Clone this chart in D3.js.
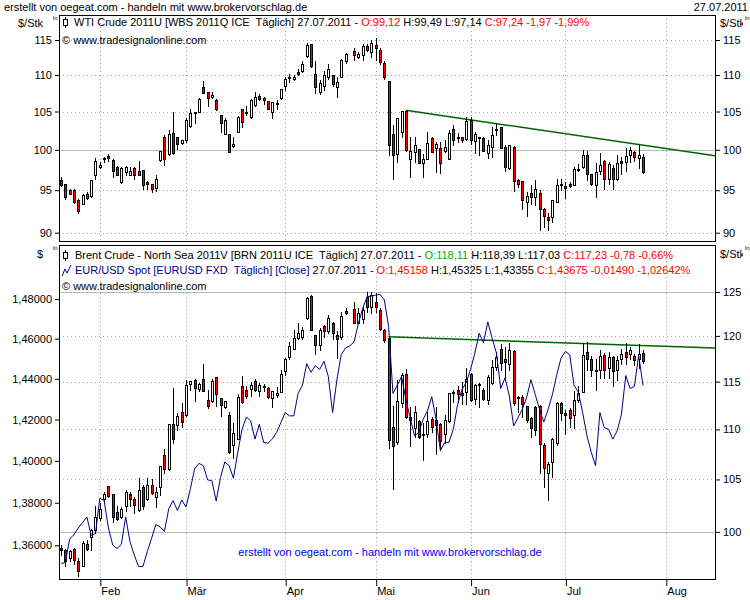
<!DOCTYPE html>
<html>
<head>
<meta charset="utf-8">
<script src="https://cdn.jsdelivr.net/npm/d3@7"></script>
<style>
  body { margin: 0; background: #fff; }
  svg { display: block; font-family: "Liberation Sans", Arial, sans-serif; font-size: 11px; }
  text { white-space: pre; }
</style>
</head>
<body>
<div id="chart"></div>
<script>
// Trading day index 0 = 19.01.2011 ... 135 = 27.07.2011 (67 = Karfreitag, no futures data)
const monthLabels = ["Feb", "Mär", "Apr", "Mai", "Jun", "Jul", "Aug"];
const monthDayIndex = [9, 29, 52, 73, 95, 117, 140.3];

const wtiTicks = [90, 95, 100, 105, 110, 115];
const wtiSolid = [100];
const brentTicks = [100, 105, 110, 115, 120, 125];
const brentSolid = [100, 125];
const eurTicks = [1.36, 1.38, 1.40, 1.42, 1.44, 1.46, 1.48];

// WTI Crude 2011U (daily OHLC)
const wtiOpen = [
  96.2,95.7,95.0,95.0,93.8,93.4,94.6,94.3,96.9,97.8,
  98.85,99.2,98.7,97.9,96.0,97.2,96.9,97.7,97.4,97.5,
  96.0,95.7,95.3,98.7,101.7,99.5,102.2,101.6,100.9,101.3,
  103.1,104.9,105.0,108.3,107.6,106.9,106.6,104.6,102.0,102.0,
  100.5,102.3,105.3,105.0,104.3,105.9,107.05,106.8,106.4,104.95,
  106.0,106.8,108.4,109.7,109.4,110.4,110.6,112.7,114.4,110.1,
  107.7,108.4,109.7,110.0,108.3,109.75,111.9,null,113.4,112.6,
  112.8,114.1,113.2,114.3,113.5,111.7,109.1,102.0,99.5,102.3,
  105.1,98.9,99.7,100.05,98.3,98.9,101.5,100.2,100.2,99.9,
  98.9,102.75,101.7,101.6,101.45,103.9,101.1,101.6,101.55,99.6,
  100.4,102.5,102.9,100.4,97.75,100.4,96.2,96.1,93.6,94.7,
  94.15,94.7,92.7,91.8,91.8,93.6,95.8,95.45,95.7,95.6,
  97.65,97.8,99.4,97.0,95.6,97.4,98.6,96.4,97.7,96.4,
  98.6,98.5,99.4,99.7,99.0,99.12];
const wtiHigh = [
  96.6,95.7,95.2,95.1,93.9,94.6,94.8,96.3,99.0,98.5,
  99.1,99.5,98.9,98.0,97.8,98.0,97.8,97.8,98.6,97.5,
  96.1,95.8,96.8,99.8,101.9,102.6,104.9,101.7,101.3,104.1,
  105.4,105.0,106.8,109.2,107.7,107.7,106.7,104.6,104.1,102.0,
  101.6,104.4,105.4,105.8,106.7,107.7,107.4,107.0,106.4,106.3,
  106.5,108.1,109.75,110.2,110.0,110.8,111.9,114.5,114.4,111.9,
  109.3,110.5,111.6,110.0,109.75,112.2,113.1,null,113.9,113.2,
  114.4,114.4,115.0,115.3,113.8,111.9,109.1,103.2,104.1,105.1,
  105.2,101.6,101.6,100.1,99.5,102.3,101.7,101.0,101.0,101.2,
  102.5,103.2,102.2,101.7,104.3,104.3,102.3,101.7,101.6,101.2,
  103.0,103.3,103.0,100.6,100.6,100.5,96.4,96.1,94.8,95.6,
  96.3,95.05,92.9,92.3,93.8,96.4,96.4,96.0,96.0,97.9,
  98.2,99.95,99.85,97.0,98.3,99.6,98.7,98.5,98.1,99.3,
  99.1,100.2,100.4,99.85,100.6,99.49];
const wtiLow = [
  95.5,94.0,94.5,93.5,92.3,93.3,94.0,94.2,96.4,97.7,
  98.5,98.6,96.6,96.8,95.9,96.9,96.8,96.4,96.8,95.2,
  95.1,94.8,94.9,98.6,98.05,99.4,99.5,100.1,100.7,101.0,
  103.0,103.5,104.9,107.5,105.8,106.8,105.2,102.3,102.0,99.7,
  100.4,102.3,103.0,104.5,104.1,105.8,106.5,106.0,105.3,104.2,
  105.3,106.65,107.9,109.0,109.3,109.95,110.4,112.6,111.1,107.5,
  107.4,107.9,109.4,108.4,106.9,109.75,111.7,null,112.1,112.4,
  112.1,113.4,112.6,112.1,111.6,109.5,99.3,96.4,98.5,101.6,
  99.9,96.6,98.5,98.3,96.6,98.9,99.7,97.2,97.1,99.7,
  98.8,100.6,101.0,101.0,101.2,100.7,99.6,99.3,99.85,98.95,
  99.1,101.9,100.2,97.4,97.6,94.9,95.4,92.8,91.9,93.4,
  93.2,90.26,90.65,90.26,91.2,93.6,95.0,94.1,95.4,95.6,
  97.4,97.7,96.2,95.6,94.2,97.0,95.1,95.7,95.1,96.3,
  97.0,97.35,98.5,98.6,97.75,97.14];
const wtiClose = [
  95.6,94.2,94.6,93.6,92.5,94.4,94.1,96.3,98.6,98.1,
  99.0,99.0,97.35,96.9,97.7,97.8,97.3,96.9,96.9,95.6,
  95.7,95.1,96.4,99.8,98.8,102.1,99.6,100.8,101.2,103.9,
  104.8,104.8,106.7,107.5,106.8,107.2,105.3,103.5,103.9,99.7,
  100.8,104.3,103.6,104.8,106.5,107.0,106.7,106.5,105.4,106.3,
  106.15,108.1,109.4,109.7,109.7,110.1,111.5,114.3,111.2,108.3,
  108.9,110.0,110.8,108.75,109.05,112.1,113.0,null,112.8,113.0,
  114.1,113.5,114.6,113.8,111.8,109.7,100.6,99.3,104.1,105.1,
  100.0,99.9,100.6,98.3,98.9,100.9,99.7,100.8,98.3,100.4,
  102.2,101.2,101.6,101.2,103.7,101.2,102.0,101.55,99.9,100.6,
  101.9,102.75,100.3,97.9,100.6,96.1,95.7,93.85,94.3,94.15,
  95.2,92.8,91.9,91.5,93.8,95.6,95.6,95.3,95.5,97.6,
  97.5,99.3,97.0,95.7,97.2,98.1,96.4,98.2,96.4,98.3,
  98.4,99.2,99.95,99.1,99.3,97.24];

// Brent Crude 2011V (daily OHLC)
const brentOpen = [
  98.5,98.3,97.6,98.4,97.3,96.9,98.9,99.55,100.15,101.3,
  103.07,104.4,103.6,101.9,101.4,102.4,103.6,103.1,102.05,104.3,
  103.1,104.5,103.3,104.3,107.4,106.0,110.6,110.5,111.8,111.5,
  114.7,115.2,114.2,115.3,113.05,112.9,115.5,113.3,112.3,111.5,
  108.4,109.0,114.5,114.1,114.2,115.1,114.0,114.55,114.3,113.3,
  113.55,113.95,116.1,117.7,118.6,119.8,119.9,122.0,124.5,120.1,
  119.0,121.1,120.5,121.5,120.1,119.9,122.8,null,123.0,121.4,
  121.9,124.4,123.25,123.9,122.9,120.7,119.8,110.3,108.7,112.7,
  115.85,111.3,110.1,110.9,109.5,109.5,111.1,110.45,110.6,109.5,
  110.9,113.9,114.1,113.8,113.85,115.8,113.2,114.75,114.1,113.05,
  114.9,116.6,118.5,117.45,116.9,118.3,113.4,113.4,112.4,111.2,
  112.3,112.4,108.4,105.65,106.7,108.6,112.7,111.7,112.0,111.5,
  113.1,113.95,118.2,117.4,116.3,116.3,117.9,116.5,117.65,116.2,
  117.4,118.2,118.0,117.8,117.5,118.11];
const brentHigh = [
  98.8,98.4,98.3,98.5,97.6,99.2,99.25,100.3,102.4,102.7,
  103.8,104.4,103.6,102.4,102.3,104.0,103.8,103.3,105.1,104.5,
  105.1,105.0,104.3,106.35,108.0,110.6,114.3,111.7,112.7,115.2,
  115.1,115.3,114.9,116.9,114.1,115.3,115.5,113.3,113.0,111.8,
  110.7,113.7,115.6,114.5,115.0,115.3,114.9,114.8,114.4,114.0,
  114.4,116.3,117.55,119.3,120.7,121.4,121.0,124.4,124.65,120.1,
  120.9,121.2,122.3,121.6,120.5,122.75,123.1,null,123.9,123.1,
  123.3,125.0,125.0,124.85,123.1,120.8,119.9,112.4,115.2,115.9,
  116.35,112.35,112.4,111.0,110.7,111.8,111.3,112.35,110.7,111.5,
  113.8,114.1,114.5,115.0,116.45,115.9,114.7,114.9,114.3,115.7,
  117.3,118.2,119.1,118.8,119.2,118.4,113.5,113.6,112.4,111.3,
  112.4,112.5,108.6,106.7,109.1,112.8,112.8,112.0,112.2,114.0,
  114.5,119.2,119.3,117.75,117.4,118.45,118.1,118.25,117.8,117.8,
  118.6,119.2,118.8,118.0,119.1,118.39];
const brentLow = [
  97.9,96.9,97.3,97.1,96.0,96.9,98.3,98.3,99.9,101.1,
  102.9,103.3,100.9,101.1,101.3,102.0,102.4,101.8,102.0,102.2,
  103.0,103.6,102.3,103.5,105.6,105.9,108.6,109.9,110.2,111.4,
  114.1,112.9,114.05,114.0,112.2,112.8,112.4,111.4,112.2,107.6,
  107.1,109.0,112.7,113.3,113.5,114.0,113.5,114.0,113.3,112.3,
  113.4,113.95,115.7,117.4,118.5,119.7,119.6,121.9,120.65,118.0,
  118.4,119.9,120.3,119.6,117.6,119.7,122.45,null,121.4,121.4,
  121.4,122.75,122.6,122.75,120.65,119.35,108.1,104.1,108.55,112.35,
  111.15,108.3,109.25,109.1,106.9,109.25,109.75,107.5,107.9,108.6,
  110.8,112.8,112.8,112.65,112.65,112.95,112.65,112.35,113.05,112.65,
  114.8,116.25,116.25,115.2,116.25,112.5,111.8,111.3,110.8,109.25,
  109.4,105.65,104.25,103.0,105.25,108.45,110.96,109.5,110.3,110.1,
  112.85,113.95,116.2,115.6,114.1,115.35,115.35,115.35,114.5,115.2,
  116.9,116.9,117.5,116.8,116.5,117.03];
const brentClose = [
  98.35,97.3,98.2,97.4,96.4,99.0,98.4,100.2,101.4,102.2,
  103.6,103.4,101.4,101.2,102.2,103.8,103.1,102.5,104.0,102.4,
  104.5,103.7,103.8,106.35,106.0,110.6,109.0,111.4,110.8,114.6,
  115.1,114.3,114.8,114.0,112.4,115.1,113.7,112.5,113.0,107.7,
  109.65,113.4,112.8,113.5,114.6,114.1,114.6,114.5,113.4,114.0,
  113.8,115.8,117.45,118.9,119.8,120.3,120.65,124.3,120.7,119.0,
  120.7,120.5,122.0,120.3,119.7,122.25,122.6,null,121.4,122.55,
  122.9,123.3,124.65,123.3,120.8,119.5,108.9,108.3,113.0,115.75,
  111.3,110.96,111.8,109.25,109.4,110.9,110.2,110.96,108.85,110.96,
  113.75,113.8,113.7,113.6,115.25,113.1,114.6,114.6,113.2,115.5,
  116.55,117.7,117.0,117.15,118.4,112.75,113.25,112.6,110.96,110.1,
  109.9,108.5,106.1,106.55,109.0,112.7,111.7,111.5,111.2,113.1,
  113.8,117.9,117.45,116.3,116.2,117.8,116.25,117.65,116.15,117.3,
  118.0,117.65,118.4,117.35,118.0,117.23];

// EUR/USD Spot, daily close
const eurClose = [
  1.3516,1.3519,1.3629,1.3650,1.3681,1.3706,1.3733,1.3647,1.3655,1.3822,
  1.3811,1.3681,1.3601,1.3585,1.3604,1.3733,1.3617,1.3554,1.3501,1.3501,
  1.3570,1.3632,1.3697,1.3686,1.3666,1.3772,1.3810,1.3764,1.3813,1.3780,
  1.3866,1.3961,1.3988,1.3977,1.3909,1.3905,1.3808,1.3920,1.3995,1.3977,
  1.3917,1.4041,1.4153,1.4212,1.4193,1.4105,1.4177,1.4089,1.4085,1.4105,
  1.4137,1.4185,1.4234,1.4218,1.4218,1.4328,1.4368,1.4475,1.4432,1.4465,
  1.4446,1.4487,1.4412,1.4234,1.4396,1.4520,1.4553,1.4564,1.4585,1.4677,
  1.4753,1.4812,1.4815,1.4820,1.4824,1.4795,1.4660,1.4328,1.4368,1.4412,
  1.4298,1.4209,1.4121,1.4137,1.4201,1.4242,1.4312,1.4201,1.4049,1.4089,
  1.4089,1.4153,1.4274,1.4347,1.4381,1.4446,1.4528,1.4627,1.4580,1.4684,
  1.4602,1.4528,1.4352,1.4405,1.4315,1.4169,1.4209,1.4250,1.4307,1.4396,
  1.4323,1.4250,1.4188,1.4250,1.4323,1.4421,1.4503,1.4536,1.4520,1.4368,
  1.4334,1.4234,1.4121,1.4041,1.3977,1.4234,1.4161,1.4153,1.4105,1.4145,
  1.4225,1.4416,1.4352,1.4363,1.4516,1.43675];

// Trend lines [dayIndex, price]
const wtiTrend = [[80, 105.16], [151.7, 99.25]];
const brentTrend = [[76, 119.9], [151.7, 118.65]];

function createOilChart(width, height) {
    // Panel frames
    const frameLeft = 59, frameRight = 715;
    const topPanel = { top: 15, bottom: 241 };
    const botPanel = { top: 245, bottom: 579 };

    const x = d3.scaleLinear().domain([0, 135]).range([61, 643]);

    const yWti = d3.scaleLog().domain([90, 115]).range([232.7, 40]);
    const yBrent = d3.scaleLog().domain([100, 125]).range([531.9, 292]);
    const yEur = d3.scaleLog().domain([1.36, 1.48]).range([545.3, 299]);

    const svg = d3.create("svg")
        .attr("width", width)
        .attr("height", height)
        .attr("viewBox", [0, 0, width, height]);

    svg.append("rect").attr("width", width).attr("height", height).attr("fill", "#fff");

    const defs = svg.append("defs");
    [["clipTop", topPanel], ["clipBot", botPanel]].forEach(([id, p]) => {
        defs.append("clipPath").attr("id", id)
            .append("rect")
            .attr("x", frameLeft + 1).attr("y", p.top + 1)
            .attr("width", frameRight - frameLeft - 1)
            .attr("height", p.bottom - p.top - 1);
    });
    defs.append("clipPath").attr("id", "clipPage")
        .append("rect").attr("x", 0).attr("y", 0).attr("width", 743).attr("height", height);

    const crisp = v => Math.round(v) + 0.5;

    function drawPanel(p, clipId, yScale, ticks, solid, ohlc, trend) {
        const g = svg.append("g").attr("clip-path", `url(#${clipId})`);

        // dotted horizontal grid
        g.selectAll(".hgrid")
            .data(ticks.filter(t => !solid.includes(t)))
            .join("line")
            .attr("x1", frameLeft).attr("x2", frameRight)
            .attr("y1", d => crisp(yScale(d))).attr("y2", d => crisp(yScale(d)))
            .attr("stroke", "#a4a4a4")
            .attr("stroke-dasharray", "1,3");

        // dotted vertical grid at month starts
        g.selectAll(".vgrid")
            .data(monthDayIndex)
            .join("line")
            .attr("x1", d => crisp(x(d))).attr("x2", d => crisp(x(d)))
            .attr("y1", p.top).attr("y2", p.bottom)
            .attr("stroke", "#a4a4a4")
            .attr("stroke-dasharray", "1,3");

        // solid reference lines
        g.selectAll(".hsolid")
            .data(solid)
            .join("line")
            .attr("x1", frameLeft).attr("x2", frameRight)
            .attr("y1", d => crisp(yScale(d))).attr("y2", d => crisp(yScale(d)))
            .attr("stroke", "#adc0ad");

        // trend line
        g.append("line")
            .attr("x1", x(trend[0][0])).attr("y1", yScale(trend[0][1]))
            .attr("x2", x(trend[1][0])).attr("y2", yScale(trend[1][1]))
            .attr("stroke", "#006400")
            .attr("stroke-width", 1.5);

        // candles
        const [open, high, low, close] = ohlc;
        const idx = d3.range(open.length).filter(i => open[i] != null);
        const candle = g.selectAll(".candle")
            .data(idx)
            .join("g");

        candle.append("line")
            .attr("x1", i => Math.round(x(i)) + 0.5)
            .attr("x2", i => Math.round(x(i)) + 0.5)
            .attr("y1", i => Math.round(yScale(high[i])))
            .attr("y2", i => Math.round(yScale(low[i])) + 1)
            .attr("stroke", "#000");

        candle.append("rect")
            .attr("x", i => Math.round(x(i)) - 0.5)
            .attr("y", i => crisp(yScale(Math.max(open[i], close[i]))))
            .attr("width", 2)
            .attr("height", i => Math.max(1, Math.round(yScale(Math.min(open[i], close[i]))) - Math.round(yScale(Math.max(open[i], close[i])))))
            .attr("fill", i => close[i] < open[i] ? "#ff0000" : "#fff")
            .attr("stroke", "#000");

        return g;
    }

    drawPanel(topPanel, "clipTop", yWti, wtiTicks, wtiSolid, [wtiOpen, wtiHigh, wtiLow, wtiClose], wtiTrend);
    const gBot = drawPanel(botPanel, "clipBot", yBrent, brentTicks, brentSolid, [brentOpen, brentHigh, brentLow, brentClose], brentTrend);

    // EUR/USD close line
    const line = d3.line()
        .x((d, i) => x(i))
        .y(d => yEur(d));
    gBot.append("path")
        .datum(eurClose)
        .attr("fill", "none")
        .attr("stroke", "#000080")
        .attr("stroke-width", 1)
        .attr("d", line);

    // frames
    [topPanel, botPanel].forEach(p => {
        svg.append("rect")
            .attr("x", frameLeft + 0.5).attr("y", p.top + 0.5)
            .attr("width", frameRight - frameLeft).attr("height", p.bottom - p.top)
            .attr("fill", "none").attr("stroke", "#000");
    });

    const fmtEur = v => d3.format(".5f")(v).replace(".", ",");
    const axisStyle = g => g.call(g => g.select(".domain").remove())
        .attr("font-family", "Liberation Sans, Arial, sans-serif")
        .attr("font-size", 11)
        .attr("color", "#000");

    const pageLayer = svg.append("g").attr("clip-path", "url(#clipPage)");

    // y axes
    svg.append("g")
        .attr("transform", `translate(${frameLeft},0)`)
        .call(d3.axisLeft(yWti).tickValues(wtiTicks).tickSize(4).tickFormat(d3.format("d")))
        .call(axisStyle);
    pageLayer.append("g")
        .attr("transform", `translate(${frameRight + 1},0)`)
        .call(d3.axisRight(yWti).tickValues(wtiTicks).tickSize(4).tickFormat(d3.format("d")))
        .call(axisStyle);
    svg.append("g")
        .attr("transform", `translate(${frameLeft},0)`)
        .call(d3.axisLeft(yEur).tickValues(eurTicks).tickSize(4).tickFormat(fmtEur))
        .call(axisStyle);
    pageLayer.append("g")
        .attr("transform", `translate(${frameRight + 1},0)`)
        .call(d3.axisRight(yBrent).tickValues(brentTicks).tickSize(4).tickFormat(d3.format("d")))
        .call(axisStyle);

    // x axis (months)
    svg.append("g")
        .attr("transform", `translate(0,${botPanel.bottom + 1})`)
        .call(d3.axisBottom(x).tickValues(monthDayIndex).tickSize(6).tickPadding(1)
            .tickFormat((d, i) => monthLabels[i]))
        .call(axisStyle)
        .call(g => g.selectAll(".tick line").attr("transform", "translate(0.5,0)"))
        .call(g => g.selectAll(".tick text").attr("text-anchor", "start").attr("x", 1));

    // page texts
    const txt = (parent, xPos, yPos, s, opts = {}) => parent.append("text")
        .attr("x", xPos).attr("y", yPos)
        .attr("fill", opts.fill || "#000")
        .attr("text-anchor", opts.anchor || "start")
        .attr("font-size", opts.size || 11)
        .text(s);

    txt(svg, 4, 11, "erstellt von oegeat.com - handeln mit www.brokervorschlag.de");
    txt(svg, 748, 11, "27.07.2011", { anchor: "end" });

    txt(svg, 18, 27, "$/Stk");
    txt(pageLayer, 720, 27, "$/Stk");
    txt(svg, 37, 258, "$");
    txt(pageLayer, 720, 258, "$/Stk");
    // log-scale markers
    [[53, 19.5], [745, 19.5], [53, 249.5], [745, 249.5]].forEach(([a, b]) => txt(svg, a, b, "ln", { size: 6 }));

    // legend rows
    function legendRow(xPos, yPos, parts) {
        const t = svg.append("text").attr("x", xPos).attr("y", yPos);
        parts.forEach(([s, c]) => t.append("tspan").attr("fill", c).text(s));
    }
    function candleIcon(cx, cy) {
        svg.append("line").attr("x1", cx + 0.5).attr("x2", cx + 0.5)
            .attr("y1", cy - 6).attr("y2", cy + 5).attr("stroke", "#000");
        svg.append("rect").attr("x", cx - 1.5).attr("y", cy - 3.5)
            .attr("width", 4).attr("height", 6).attr("fill", "#fff").attr("stroke", "#000");
    }

    candleIcon(65, 23);
    legendRow(74, 26, [
        ["WTI Crude 2011U [WBS 2011Q ICE  Täglich] 27.07.2011 - ", "#000"],
        ["O:99,12", "#ff0000"],
        [" H:99,49 L:97,14 ", "#000"],
        ["C:97,24 -1,97 -1,99%", "#ff0000"]
    ]);
    txt(svg, 62, 44, "© www.tradesignalonline.com");

    candleIcon(65, 256);
    legendRow(75, 259, [
        ["Brent Crude - North Sea 2011V [BRN 2011U ICE  Täglich] 27.07.2011 - ", "#000"],
        ["O:118,11", "#00b000"],
        [" H:118,39 L:117,03 ", "#000"],
        ["C:117,23 -0,78 -0,66%", "#ff0000"]
    ]);
    svg.append("polyline")
        .attr("points", "62,276 65,269 67,273 71,265")
        .attr("fill", "none").attr("stroke", "#000080");
    legendRow(75, 274, [
        ["EUR/USD Spot [EURUSD FXD  Täglich] [Close]", "#000080"],
        [" 27.07.2011 - ", "#000"],
        ["O:1,45158", "#ff0000"],
        [" H:1,45325 L:1,43355 ", "#000"],
        ["C:1,43675 -0,01490 -1,02642%", "#ff0000"]
    ]);
    txt(svg, 62, 290, "© www.tradesignalonline.com");

    txt(svg, 390, 556, "erstellt von oegeat.com - handeln mit www.brokervorschlag.de",
        { fill: "#0000ee", anchor: "middle" });

    return svg.node();
}

document.getElementById("chart").appendChild(createOilChart(750, 600));
</script>
</body>
</html>
